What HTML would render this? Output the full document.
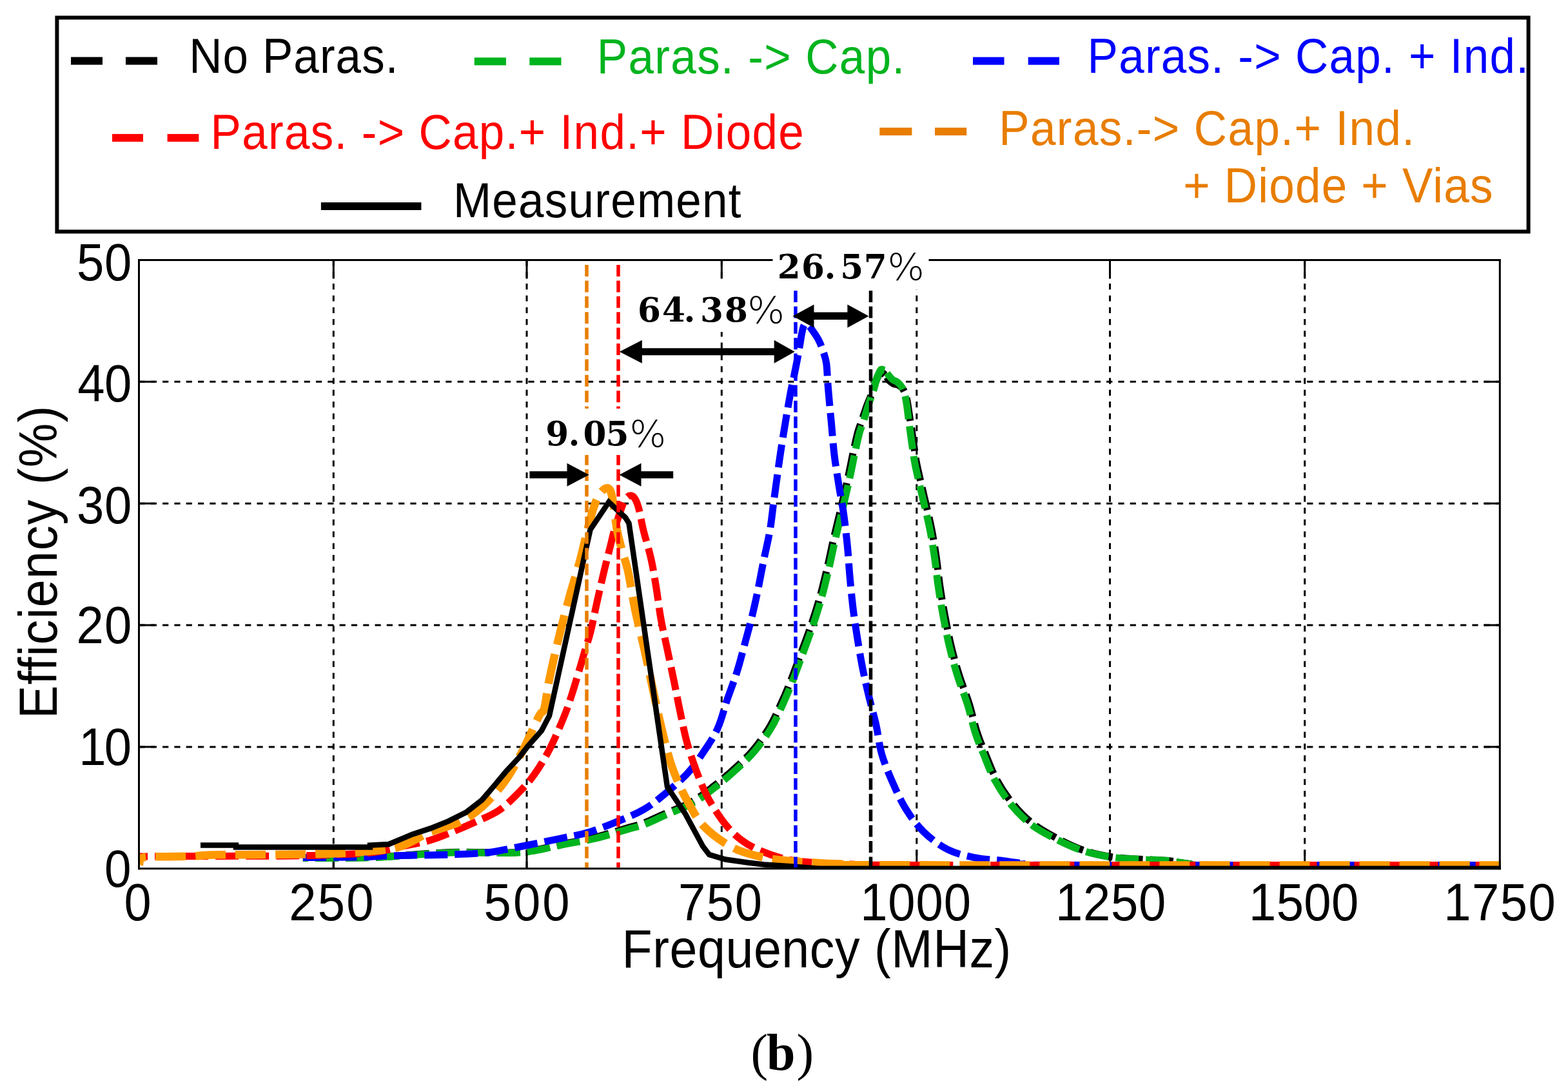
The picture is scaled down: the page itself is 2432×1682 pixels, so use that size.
<!DOCTYPE html>
<html><head><meta charset="utf-8"><title>Efficiency vs Frequency</title><style>html,body{margin:0;padding:0;background:#fff;}svg{display:block;}</style></head><body>
<svg width="2432" height="1682" viewBox="0 0 2432 1682">
<rect x="0" y="0" width="2432" height="1682" fill="#fff"/>
<rect x="88.4" y="27.4" width="2282.2" height="332" fill="#fff" stroke="#000" stroke-width="6"/>
<rect x="110" y="88.5" width="49.0" height="12" fill="#000"/><rect x="195" y="88.5" width="49.0" height="12" fill="#000"/>
<rect x="735.7" y="89.3" width="49.2" height="12" fill="#00b41e"/><rect x="821.3" y="89.3" width="49.2" height="12" fill="#00b41e"/>
<rect x="1509" y="88.6" width="48.5" height="12" fill="#0000ff"/><rect x="1594.7" y="88.6" width="48.3" height="12" fill="#0000ff"/>
<rect x="174" y="207.9" width="48.0" height="12" fill="#ff0000"/><rect x="259.6" y="207.9" width="48.8" height="12" fill="#ff0000"/>
<rect x="1364.3" y="198.1" width="50.1" height="12" fill="#e87d00"/><rect x="1450" y="198.1" width="49.2" height="12" fill="#e87d00"/>
<rect x="497.9" y="314" width="155.5" height="12" fill="#000"/>
<text transform="scale(0.94,1)" x="311.9" y="112.8" font-family='"Liberation Sans", Arial, sans-serif' font-weight="normal" font-size="75.5" fill="#000" textLength="345.0" lengthAdjust="spacing" >No Paras.</text>
<text transform="scale(0.94,1)" x="984.8" y="113.8" font-family='"Liberation Sans", Arial, sans-serif' font-weight="normal" font-size="75.5" fill="#00b41e" textLength="508.0" lengthAdjust="spacing" >Paras. -&gt; Cap.</text>
<text transform="scale(0.94,1)" x="1794.2" y="112.6" font-family='"Liberation Sans", Arial, sans-serif' font-weight="normal" font-size="75.5" fill="#0000ff" textLength="728.2" lengthAdjust="spacing" >Paras. -&gt; Cap. + Ind.</text>
<text transform="scale(0.94,1)" x="347.4" y="230.8" font-family='"Liberation Sans", Arial, sans-serif' font-weight="normal" font-size="75.5" fill="#ff0000" textLength="979.0" lengthAdjust="spacing" >Paras. -&gt; Cap.+ Ind.+ Diode</text>
<text transform="scale(0.94,1)" x="1648.1" y="225.3" font-family='"Liberation Sans", Arial, sans-serif' font-weight="normal" font-size="75.5" fill="#e87d00" textLength="686.0" lengthAdjust="spacing" >Paras.-&gt; Cap.+ Ind.</text>
<text transform="scale(0.94,1)" x="1952.3" y="314.4" font-family='"Liberation Sans", Arial, sans-serif' font-weight="normal" font-size="75.5" fill="#e87d00" textLength="511.0" lengthAdjust="spacing" >+ Diode + Vias</text>
<text transform="scale(0.94,1)" x="747.8" y="337.2" font-family='"Liberation Sans", Arial, sans-serif' font-weight="normal" font-size="75.5" fill="#000" textLength="475.0" lengthAdjust="spacing" >Measurement</text>
<g stroke="#000" stroke-width="3" stroke-dasharray="9.2 9.1" fill="none"><line x1="517.3" y1="403.5" x2="517.3" y2="1347.7"/><line x1="817.0" y1="403.5" x2="817.0" y2="1347.7"/><line x1="1119.3" y1="403.5" x2="1119.3" y2="1347.7"/><line x1="1421.8" y1="403.5" x2="1421.8" y2="1347.7"/><line x1="1721.5" y1="403.5" x2="1721.5" y2="1347.7"/><line x1="2023.7" y1="403.5" x2="2023.7" y2="1347.7"/><line x1="215.5" y1="1158.9" x2="2326.3" y2="1158.9"/><line x1="215.5" y1="970.0" x2="2326.3" y2="970.0"/><line x1="215.5" y1="781.2" x2="2326.3" y2="781.2"/><line x1="215.5" y1="592.3" x2="2326.3" y2="592.3"/></g>
<g stroke="#000" stroke-width="3" fill="none"><line x1="517.3" y1="403.5" x2="517.3" y2="432.5"/><line x1="517.3" y1="1347.7" x2="517.3" y2="1318.7"/><line x1="817.0" y1="403.5" x2="817.0" y2="432.5"/><line x1="817.0" y1="1347.7" x2="817.0" y2="1318.7"/><line x1="1119.3" y1="403.5" x2="1119.3" y2="432.5"/><line x1="1119.3" y1="1347.7" x2="1119.3" y2="1318.7"/><line x1="1421.8" y1="403.5" x2="1421.8" y2="432.5"/><line x1="1421.8" y1="1347.7" x2="1421.8" y2="1318.7"/><line x1="1721.5" y1="403.5" x2="1721.5" y2="432.5"/><line x1="1721.5" y1="1347.7" x2="1721.5" y2="1318.7"/><line x1="2023.7" y1="403.5" x2="2023.7" y2="432.5"/><line x1="2023.7" y1="1347.7" x2="2023.7" y2="1318.7"/><line x1="215.5" y1="1158.9" x2="240.5" y2="1158.9"/><line x1="2326.3" y1="1158.9" x2="2301.3" y2="1158.9"/><line x1="215.5" y1="970.0" x2="240.5" y2="970.0"/><line x1="2326.3" y1="970.0" x2="2301.3" y2="970.0"/><line x1="215.5" y1="781.2" x2="240.5" y2="781.2"/><line x1="2326.3" y1="781.2" x2="2301.3" y2="781.2"/><line x1="215.5" y1="592.3" x2="240.5" y2="592.3"/><line x1="2326.3" y1="592.3" x2="2301.3" y2="592.3"/></g>
<defs><clipPath id="pc"><rect x="214" y="402" width="2114" height="947.2"/></clipPath></defs><g clip-path="url(#pc)">
<path d="M469.68,1331.31 C484.67,1331.22 538.00,1331.13 559.65,1330.79 C581.30,1330.45 576.31,1330.62 599.58,1329.24 C622.84,1327.87 667.63,1323.58 699.25,1322.55 C730.87,1321.52 767.80,1323.58 789.27,1323.07 C810.75,1322.55 814.39,1321.67 828.10,1319.46 C841.81,1317.25 856.35,1312.95 871.53,1309.78 C886.71,1306.60 902.69,1304.46 919.17,1300.40 C935.66,1296.35 957.47,1289.33 970.50,1285.50 C983.67,1281.75 988.00,1281.03 997.50,1277.50 C1007.00,1273.97 1014.95,1269.85 1027.50,1264.30 C1040.05,1258.75 1059.40,1251.72 1072.80,1244.20 C1086.20,1236.68 1096.62,1227.98 1107.90,1219.20 C1119.18,1210.42 1130.48,1200.70 1140.50,1191.50 C1150.52,1182.30 1159.23,1174.42 1168.00,1164.00 C1176.77,1153.58 1186.02,1140.68 1193.10,1129.00 C1200.18,1117.32 1205.10,1105.60 1210.50,1093.90 C1215.90,1082.20 1220.05,1072.58 1225.50,1058.80 C1230.95,1045.02 1237.62,1026.45 1243.20,1011.20 C1248.78,995.95 1254.15,981.82 1259.00,967.30 C1263.85,952.78 1268.22,938.82 1272.30,924.10 C1276.38,909.38 1280.05,893.73 1283.50,879.00 C1286.95,864.27 1289.53,850.75 1293.00,835.70 C1296.47,820.65 1300.55,804.67 1304.30,788.70 C1308.05,772.73 1312.22,754.93 1315.50,739.90 C1318.78,724.87 1321.50,710.07 1324.00,698.50 C1326.50,686.93 1328.37,678.27 1330.50,670.50 C1332.63,662.73 1334.47,659.23 1336.80,651.90 C1339.24,644.95 1342.26,635.29 1344.96,628.16 C1347.66,621.02 1350.64,615.09 1352.95,608.93 C1355.26,602.78 1356.68,596.35 1358.82,591.24 C1360.95,586.13 1363.43,579.85 1365.74,578.28 C1368.05,576.71 1370.63,579.95 1372.67,581.82" fill="none" stroke="#000" stroke-width="11" stroke-dasharray="36 11" stroke-dashoffset="27.82"/>
<path d="M1373.33,581.82 C1375.12,583.69 1376.13,586.69 1378.00,589.50 C1380.13,591.36 1382.97,594.06 1385.46,595.34 C1387.95,596.62 1390.43,595.82 1392.92,597.18 C1395.41,598.55 1398.25,600.33 1400.38,603.53 C1402.51,606.72 1404.29,611.32 1405.71,616.34 C1407.13,621.36 1407.61,625.39 1408.91,633.63 C1410.20,641.88 1411.89,655.00 1413.80,664.70 C1415.30,675.87 1417.05,688.80 1418.50,698.50 C1419.95,708.20 1420.03,711.00 1422.50,722.90 C1424.97,734.80 1429.63,753.92 1433.30,769.90 C1436.97,785.88 1441.37,803.13 1444.50,818.80 C1447.63,834.47 1449.88,848.87 1452.10,863.90 C1454.32,878.93 1455.60,893.97 1457.80,909.00 C1460.00,924.03 1462.35,938.35 1465.30,954.10 C1468.25,969.85 1471.72,987.77 1475.50,1003.50 C1479.28,1019.23 1483.42,1033.85 1488.00,1048.50 C1492.58,1063.15 1498.42,1076.73 1503.00,1091.40 C1507.58,1106.07 1511.32,1123.57 1515.50,1136.50 C1519.68,1149.43 1523.10,1156.88 1528.10,1169.00 C1533.10,1181.12 1538.43,1196.25 1545.50,1209.20 C1552.57,1222.15 1561.33,1235.43 1570.50,1246.70 C1579.67,1257.97 1589.20,1268.02 1600.50,1276.80 C1611.80,1285.58 1624.42,1292.63 1637.65,1299.79 C1650.89,1306.95 1665.99,1314.46 1680.40,1319.46 C1694.81,1324.46 1709.46,1327.46 1724.10,1329.76 C1738.74,1332.06 1753.56,1332.32 1768.23,1333.26 C1782.90,1334.21 1799.35,1334.21 1812.12,1335.42 C1824.90,1336.64 1832.00,1339.35 1845.00,1340.50 C1858.00,1341.65 1809.17,1342.07 1890.00,1342.40 C1970.83,1342.73 2256.67,1342.48 2330.00,1342.50" fill="none" stroke="#000" stroke-width="11" stroke-dasharray="36 11" stroke-dashoffset="1405.70"/>
<path d="M470.0,1331.5 C485.0,1331.4 538.3,1331.3 560.0,1331.0 C581.7,1330.7 576.7,1330.8 600.0,1329.5 C623.3,1328.2 668.3,1324.0 700.0,1323.0 C731.7,1322.0 768.5,1324.0 790.0,1323.5 C811.5,1323.0 815.2,1322.2 829.0,1320.0 C842.8,1317.8 857.6,1313.7 872.9,1310.6 C888.2,1307.5 904.3,1305.4 921.0,1301.5 C937.7,1297.6 959.8,1290.8 973.0,1287.0 C986.2,1283.2 990.5,1282.5 1000.0,1279.0 C1009.5,1275.5 1017.5,1271.3 1030.0,1265.8 C1042.5,1260.2 1061.9,1253.2 1075.3,1245.7 C1088.7,1238.2 1099.1,1229.5 1110.4,1220.7 C1121.7,1211.9 1133.0,1202.2 1143.0,1193.0 C1153.0,1183.8 1161.7,1175.9 1170.5,1165.5 C1179.3,1155.1 1188.5,1142.2 1195.6,1130.5 C1202.7,1118.8 1207.6,1107.1 1213.0,1095.4 C1218.4,1083.7 1222.5,1074.1 1228.0,1060.3 C1233.5,1046.5 1240.1,1028.0 1245.7,1012.7 C1251.3,997.5 1256.7,983.3 1261.5,968.8 C1266.3,954.3 1270.7,940.3 1274.8,925.6 C1278.9,910.9 1282.5,895.2 1286.0,880.5 C1289.5,865.8 1292.0,852.2 1295.5,837.2 C1299.0,822.2 1303.0,806.2 1306.8,790.2 C1310.5,774.2 1314.7,756.4 1318.0,741.4 C1321.3,726.4 1324.0,711.6 1326.5,700.0 C1329.0,688.4 1330.9,679.8 1333.0,672.0 C1335.1,664.2 1337.0,660.7 1339.3,653.4 C1341.6,646.1 1344.5,635.7 1347.0,628.0 C1349.5,620.3 1352.3,613.7 1354.5,607.0 C1356.7,600.3 1358.0,593.6 1360.0,588.0 C1362.0,582.4 1364.3,575.6 1366.5,573.5 C1368.7,571.4 1371.1,574.1 1373.0,575.5 C1374.9,576.9 1376.0,579.7 1378.0,582.0 C1380.0,584.3 1382.7,587.7 1385.0,589.5 C1387.3,591.3 1389.7,591.1 1392.0,593.0 C1394.3,594.9 1397.0,597.3 1399.0,601.0 C1401.0,604.7 1402.7,609.7 1404.0,615.0 C1405.3,620.3 1405.8,624.5 1407.0,633.0 C1408.2,641.5 1409.8,655.0 1411.3,666.2 C1412.8,677.4 1414.5,690.3 1416.0,700.0 C1417.5,709.7 1417.5,712.5 1420.0,724.4 C1422.5,736.3 1427.1,755.4 1430.8,771.4 C1434.5,787.4 1438.9,804.6 1442.0,820.3 C1445.1,836.0 1447.4,850.4 1449.6,865.4 C1451.8,880.4 1453.1,895.5 1455.3,910.5 C1457.5,925.5 1459.8,939.9 1462.8,955.6 C1465.8,971.4 1469.2,989.3 1473.0,1005.0 C1476.8,1020.7 1480.9,1035.3 1485.5,1050.0 C1490.1,1064.7 1495.9,1078.2 1500.5,1092.9 C1505.1,1107.6 1508.8,1125.1 1513.0,1138.0 C1517.2,1150.9 1520.6,1158.4 1525.6,1170.5 C1530.6,1182.6 1535.9,1197.8 1543.0,1210.7 C1550.1,1223.7 1558.8,1236.9 1568.0,1248.2 C1577.2,1259.5 1586.7,1269.5 1598.0,1278.3 C1609.3,1287.1 1622.2,1294.0 1635.8,1300.9 C1649.4,1307.9 1664.8,1315.2 1679.5,1320.0 C1694.2,1324.8 1709.0,1327.8 1723.7,1330.0 C1738.5,1332.2 1753.3,1332.5 1768.0,1333.4 C1782.7,1334.3 1799.2,1334.3 1812.0,1335.5 C1824.8,1336.7 1832.0,1339.3 1845.0,1340.5 C1858.0,1341.7 1809.2,1342.1 1890.0,1342.4 C1970.8,1342.7 2256.7,1342.5 2330.0,1342.5" fill="none" stroke="#00b41e" stroke-width="11" stroke-dasharray="36 11" stroke-dashoffset="27.82"/>
<path d="M1356.0,596.0 C1356.7,594.3 1358.2,589.8 1360.0,586.0 C1361.8,582.2 1364.5,575.3 1366.5,573.5 C1368.5,571.7 1371.1,574.8 1372.0,575.0" fill="none" stroke="#00b41e" stroke-width="11"/>
<path d="M470.0,1330.5 C485.0,1330.4 538.3,1330.4 560.0,1330.0 C581.7,1329.6 576.7,1328.7 600.0,1328.0 C623.3,1327.3 674.2,1326.8 700.0,1326.0 C725.8,1325.2 741.2,1324.3 755.0,1323.0 C768.8,1321.7 770.9,1320.6 783.0,1318.4 C795.1,1316.2 812.9,1312.5 827.4,1309.6 C841.9,1306.7 855.8,1303.9 870.3,1300.8 C884.8,1297.7 898.1,1296.1 914.5,1291.0 C930.9,1285.9 954.4,1276.1 968.4,1270.3 C982.4,1264.5 989.1,1261.5 998.5,1256.0 C1007.9,1250.5 1013.9,1246.2 1025.0,1237.0 C1036.1,1227.8 1054.4,1212.5 1065.3,1201.0 C1076.2,1189.5 1082.5,1179.8 1090.4,1168.0 C1098.4,1156.2 1106.7,1144.3 1113.0,1130.5 C1119.3,1116.7 1123.0,1099.9 1128.0,1085.3 C1133.0,1070.7 1138.4,1057.3 1143.0,1042.7 C1147.6,1028.1 1151.8,1011.4 1155.5,997.6 C1159.2,983.8 1162.2,973.3 1165.5,960.0 C1168.8,946.7 1171.8,933.2 1175.0,918.0 C1178.2,902.8 1181.4,884.7 1184.6,869.0 C1187.8,853.3 1191.4,839.0 1194.0,824.0 C1196.6,809.0 1198.0,793.8 1200.0,779.0 C1202.0,764.2 1204.2,748.2 1206.0,735.0 C1207.8,721.8 1208.8,714.6 1211.0,700.0 C1213.2,685.4 1217.0,662.4 1219.5,647.4 C1222.0,632.4 1224.1,620.2 1226.0,610.0 C1227.9,599.8 1229.2,595.0 1231.0,586.0 C1232.8,577.0 1235.4,564.3 1237.0,556.0 C1238.6,547.7 1239.4,542.3 1240.5,536.0 C1241.6,529.7 1242.5,523.0 1243.5,518.0 C1244.5,513.0 1245.4,508.6 1246.5,506.0 C1247.6,503.4 1248.6,502.5 1250.0,502.5 C1251.4,502.5 1253.2,504.1 1255.0,506.0 C1256.8,507.9 1258.6,510.5 1261.0,514.0 C1263.4,517.5 1266.9,522.2 1269.4,527.0 C1271.9,531.8 1274.0,536.9 1276.0,543.0 C1278.0,549.1 1280.4,554.8 1281.7,563.6 C1283.0,572.4 1283.2,585.8 1284.0,596.0 C1284.8,606.2 1285.6,614.9 1286.5,625.0 C1287.4,635.1 1288.2,643.4 1289.5,656.8 C1290.8,670.2 1292.1,689.6 1294.0,705.6 C1295.9,721.6 1298.6,737.2 1301.0,752.6 C1303.4,768.0 1306.4,782.0 1308.6,797.7 C1310.8,813.4 1312.7,830.6 1314.3,846.6 C1315.9,862.6 1316.6,877.9 1318.0,893.6 C1319.4,909.3 1320.9,925.4 1322.7,940.6 C1324.5,955.8 1326.5,969.2 1329.0,985.0 C1331.5,1000.8 1334.5,1019.3 1337.6,1035.2 C1340.7,1051.1 1344.0,1065.3 1347.6,1080.3 C1351.2,1095.3 1355.7,1110.4 1359.0,1125.4 C1362.3,1140.4 1363.3,1155.5 1367.7,1170.5 C1372.1,1185.5 1378.9,1201.5 1385.2,1215.7 C1391.5,1229.9 1397.4,1243.3 1405.3,1255.8 C1413.2,1268.3 1421.9,1280.5 1432.8,1290.9 C1443.7,1301.3 1457.0,1311.7 1470.4,1318.4 C1483.8,1325.1 1499.6,1328.2 1513.0,1331.0 C1526.4,1333.8 1537.8,1333.5 1550.6,1335.0 C1563.4,1336.5 1575.1,1338.8 1590.0,1340.0 C1604.9,1341.2 1516.7,1341.9 1640.0,1342.3 C1763.3,1342.7 2215.0,1342.5 2330.0,1342.5" fill="none" stroke="#0000ff" stroke-width="11" stroke-dasharray="36 11" stroke-dashoffset="46.84"/>
<path d="M216.0,1329.0 C230.0,1328.9 261.0,1328.7 300.0,1328.5 C339.0,1328.3 413.3,1328.4 450.0,1328.0 C486.7,1327.6 498.3,1326.9 520.0,1326.0 C541.7,1325.1 562.5,1324.7 580.0,1322.5 C597.5,1320.3 610.3,1316.2 625.0,1313.0 C639.7,1309.8 654.7,1307.4 668.0,1303.5 C681.3,1299.6 693.4,1294.1 704.8,1289.5 C716.2,1284.9 725.0,1281.1 736.5,1275.8 C748.0,1270.5 762.2,1265.3 773.7,1257.5 C785.2,1249.7 796.2,1238.4 805.4,1229.0 C814.6,1219.6 821.2,1212.3 829.0,1201.3 C836.8,1190.2 844.7,1177.4 852.3,1162.7 C859.9,1148.0 868.8,1126.7 874.4,1113.0 C880.0,1099.3 881.7,1093.7 886.0,1080.6 C890.3,1067.5 896.3,1046.8 900.0,1034.5 C903.7,1022.2 905.3,1016.0 908.0,1007.0 C910.7,998.0 913.0,992.6 916.0,980.4 C919.0,968.2 922.6,949.4 926.0,934.0 C929.4,918.6 933.1,902.3 936.5,888.0 C939.9,873.7 943.8,859.0 946.5,848.0 C949.2,837.0 950.8,830.0 953.0,822.0 C955.2,814.0 957.8,806.5 960.0,800.0 C962.2,793.5 964.0,787.7 966.0,783.0 C968.0,778.3 969.9,774.3 972.0,772.0 C974.1,769.7 976.3,768.7 978.5,769.0 C980.7,769.3 982.9,770.5 985.0,774.0 C987.1,777.5 988.8,781.8 991.0,790.0 C993.2,798.2 994.8,810.0 998.0,823.0 C1001.2,836.0 1006.7,853.0 1010.0,868.0 C1013.3,883.0 1015.5,897.7 1018.0,913.0 C1020.5,928.3 1022.2,944.2 1025.0,960.0 C1027.8,975.8 1031.7,991.8 1035.0,1007.6 C1038.3,1023.4 1041.8,1039.6 1045.0,1055.0 C1048.2,1070.4 1050.4,1083.2 1054.0,1100.0 C1057.6,1116.8 1061.1,1136.7 1066.5,1155.5 C1071.9,1174.3 1080.1,1197.1 1086.6,1213.0 C1093.1,1228.9 1097.7,1238.2 1105.4,1250.7 C1113.1,1263.2 1123.0,1277.8 1133.0,1288.3 C1143.0,1298.8 1152.5,1306.3 1165.5,1313.4 C1178.5,1320.5 1196.5,1327.0 1210.7,1331.0 C1224.9,1335.0 1232.6,1335.8 1250.8,1337.5 C1269.0,1339.2 1291.8,1340.2 1320.0,1341.0 C1348.2,1341.8 1251.7,1342.2 1420.0,1342.4 C1588.3,1342.7 2178.3,1342.5 2330.0,1342.5" fill="none" stroke="#ff0000" stroke-width="11" stroke-dasharray="36 11" stroke-dashoffset="22.83"/>
<path d="M216.0,1341.0 C217.0,1339.2 214.7,1332.5 222.0,1330.5 C229.3,1328.5 247.0,1329.6 260.0,1329.3 C273.0,1329.0 288.3,1329.0 300.0,1328.5 C311.7,1328.0 310.0,1326.9 330.0,1326.5 C350.0,1326.1 391.7,1326.2 420.0,1326.0 C448.3,1325.8 476.7,1325.7 500.0,1325.0 C523.3,1324.3 540.2,1323.8 560.0,1322.0 C579.8,1320.2 601.1,1319.2 619.0,1314.0 C636.9,1308.8 652.1,1297.3 667.6,1291.0 C683.1,1284.7 698.4,1282.5 711.7,1276.0 C725.0,1269.5 735.8,1262.4 747.5,1252.0 C759.2,1241.6 771.6,1227.9 782.0,1213.7 C792.4,1199.5 800.6,1184.1 809.6,1167.0 C818.6,1149.9 830.3,1122.2 836.0,1111.0 C841.7,1099.8 841.3,1109.4 844.0,1100.0 C846.7,1090.6 848.3,1072.4 852.0,1054.5 C855.7,1036.6 861.0,1013.1 866.0,992.4 C871.0,971.7 876.3,951.0 882.0,930.3 C887.7,909.6 895.2,885.9 900.0,868.0 C904.8,850.1 907.5,836.5 911.0,823.0 C914.5,809.5 917.8,796.3 921.0,787.0 C924.2,777.7 926.8,771.9 930.0,767.0 C933.2,762.1 937.2,758.3 940.0,757.5 C942.8,756.7 945.0,757.4 947.0,762.0 C949.0,766.6 950.3,775.0 952.0,785.0 C953.7,795.0 954.8,810.3 957.0,822.0 C959.2,833.7 962.2,844.3 965.0,855.0 C967.8,865.7 970.6,870.5 974.0,886.0 C977.4,901.5 981.2,927.3 985.5,948.0 C989.8,968.7 995.5,989.7 1000.0,1010.0 C1004.5,1030.3 1008.5,1050.8 1012.7,1070.0 C1016.9,1089.2 1020.5,1106.6 1025.0,1125.4 C1029.5,1144.2 1035.0,1167.1 1040.0,1183.0 C1045.0,1198.9 1050.4,1210.2 1055.0,1220.7 C1059.6,1231.2 1061.9,1235.7 1067.8,1245.7 C1073.7,1255.7 1079.5,1269.5 1090.4,1280.8 C1101.3,1292.1 1118.8,1305.5 1133.0,1313.4 C1147.2,1321.4 1160.1,1324.7 1175.6,1328.5 C1191.0,1332.3 1204.8,1334.0 1225.7,1336.0 C1246.6,1338.0 1272.0,1339.5 1301.0,1340.5 C1330.0,1341.5 1228.5,1342.0 1400.0,1342.3 C1571.5,1342.6 2175.0,1342.5 2330.0,1342.5" fill="none" stroke="#ff9900" stroke-width="12.5" stroke-dasharray="47 15" stroke-dashoffset="29.62"/>
<path d="M311.0,1311.5 L366.0,1311.5 L366.0,1314.4 L574.0,1314.4 L574.0,1311.5 L603.0,1310.0 L640.0,1294.4 L667.6,1285.4 L695.1,1274.4 L722.7,1260.6 L747.5,1241.3 L764.1,1222.0 L784.7,1197.2 L805.4,1175.1 L819.2,1157.2 L839.9,1133.8 L852.0,1110.6 L915.5,822.0 L944.3,779.0 L961.0,795.0 L970.0,803.0 L975.5,812.0 L1035.0,1221.0 L1063.0,1263.0 L1090.0,1313.0 L1100.0,1326.0 L1125.0,1333.5 L1160.0,1338.5 L1185.0,1341.5 L1230.0,1344.5 L1270.0,1347.7 L2330.0,1347.7" fill="none" stroke="#000" stroke-width="8.5" stroke-linejoin="miter" stroke-miterlimit="3"/>
</g>
<line x1="910" y1="411" x2="910" y2="1346" stroke="#e87d00" stroke-width="5.5" stroke-dasharray="18 6.4"/>
<line x1="959" y1="411" x2="959" y2="1346" stroke="#ff0000" stroke-width="5.5" stroke-dasharray="18 6.4"/>
<line x1="1234" y1="451" x2="1234" y2="1346" stroke="#0000ff" stroke-width="5.5" stroke-dasharray="18 6.4"/>
<line x1="1350.5" y1="451" x2="1350.5" y2="1346" stroke="#000" stroke-width="5.5" stroke-dasharray="18 6.4"/>
<line x1="821.4" y1="736.7" x2="885" y2="736.7" stroke="#000" stroke-width="11"/>
<path d="M913.5,736.7 L879.5,718.7 L879.5,754.7 Z" fill="#000"/>
<line x1="990" y1="736.7" x2="1044.2" y2="736.7" stroke="#000" stroke-width="11"/>
<path d="M960.5,736.7 L994.5,718.7 L994.5,754.7 Z" fill="#000"/>
<line x1="990" y1="545.7" x2="1205" y2="545.7" stroke="#000" stroke-width="11"/>
<path d="M960.8,545.7 L995.8,527.7 L995.8,563.7 Z" fill="#000"/>
<path d="M1232.7,545.7 L1200.7,527.7 L1200.7,563.7 Z" fill="#000"/>
<line x1="1258" y1="490.3" x2="1320" y2="490.3" stroke="#000" stroke-width="11.5"/>
<path d="M1229.5,490.5 L1262.5,472.5 L1262.5,508.5 Z" fill="#000"/>
<path d="M1347.4,490.5 L1314.4,472.5 L1314.4,508.5 Z" fill="#000"/>
<rect x="1197" y="385" width="245" height="64" fill="#fff"/>
<rect x="985" y="440" width="236" height="75" fill="#fff"/>
<rect x="840" y="634" width="196" height="72" fill="#fff"/>
<text y="691.3" x="846.3 881.5 904.6 939.6" font-family='"DejaVu Serif", serif' font-weight="bold" font-size="51.6" fill="#000">9.05</text><text transform="translate(976.3,693.6) scale(1.066,1)" x="0" y="0" font-family='"DejaVu Sans", sans-serif' font-weight="200" font-size="56.5" fill="#000">%</text>
<text y="499.2" x="988.9 1026.9 1060.6 1086.1 1123.9" font-family='"DejaVu Serif", serif' font-weight="bold" font-size="51.6" fill="#000">64.38</text><text transform="translate(1158.9,501.5) scale(1.086,1)" x="0" y="0" font-family='"DejaVu Sans", sans-serif' font-weight="200" font-size="56.5" fill="#000">%</text>
<text y="432.4" x="1205.7 1243.0 1278.5 1303.2 1339.7" font-family='"DejaVu Serif", serif' font-weight="bold" font-size="51.6" fill="#000">26.57</text><text transform="translate(1376.3,434.7) scale(1.077,1)" x="0" y="0" font-family='"DejaVu Sans", sans-serif' font-weight="200" font-size="56.5" fill="#000">%</text>
<g stroke="#000" stroke-width="3" stroke-linecap="square" fill="none"><line x1="215.5" y1="1347.7" x2="2326.3" y2="1347.7"/><line x1="215.5" y1="403.5" x2="215.5" y2="1347.7"/><line x1="2326.3" y1="403.5" x2="2326.3" y2="1347.7"/><line x1="215.5" y1="403.5" x2="1197" y2="403.5"/><line x1="1442" y1="403.5" x2="2326.3" y2="403.5"/></g>
<text transform="scale(0.93,1)" x="127.9" y="434.9" font-family='"Liberation Sans", Arial, sans-serif' font-weight="normal" font-size="81.8" fill="#000" textLength="91.7" lengthAdjust="spacing" >50</text>
<text transform="scale(0.93,1)" x="129.2" y="623.4" font-family='"Liberation Sans", Arial, sans-serif' font-weight="normal" font-size="81.8" fill="#000" textLength="90.6" lengthAdjust="spacing" >40</text>
<text transform="scale(0.93,1)" x="128.0" y="812.5" font-family='"Liberation Sans", Arial, sans-serif' font-weight="normal" font-size="81.8" fill="#000" textLength="91.8" lengthAdjust="spacing" >30</text>
<text transform="scale(0.93,1)" x="127.5" y="998.5" font-family='"Liberation Sans", Arial, sans-serif' font-weight="normal" font-size="81.8" fill="#000" textLength="92.3" lengthAdjust="spacing" >20</text>
<text transform="scale(0.93,1)" x="131.5" y="1187.3" font-family='"Liberation Sans", Arial, sans-serif' font-weight="normal" font-size="81.8" fill="#000" textLength="88.0" lengthAdjust="spacing" >10</text>
<text transform="scale(0.9130,1)" x="177.5" y="1376.4" font-family='"Liberation Sans", Arial, sans-serif' font-weight="normal" font-size="81.8" fill="#000">0</text>
<text transform="scale(0.9258,1)" x="207.8" y="1427.9" font-family='"Liberation Sans", Arial, sans-serif' font-weight="normal" font-size="81.8" fill="#000">0</text>
<text transform="scale(0.93,1)" x="481.9" y="1427.9" font-family='"Liberation Sans", Arial, sans-serif' font-weight="normal" font-size="81.8" fill="#000" textLength="141.3" lengthAdjust="spacing" >250</text>
<text transform="scale(0.93,1)" x="807.0" y="1427.9" font-family='"Liberation Sans", Arial, sans-serif' font-weight="normal" font-size="81.8" fill="#000" textLength="143.2" lengthAdjust="spacing" >500</text>
<text transform="scale(0.93,1)" x="1131.1" y="1427.9" font-family='"Liberation Sans", Arial, sans-serif' font-weight="normal" font-size="81.8" fill="#000" textLength="139.8" lengthAdjust="spacing" >750</text>
<text transform="scale(0.93,1)" x="1434.6" y="1427.9" font-family='"Liberation Sans", Arial, sans-serif' font-weight="normal" font-size="81.8" fill="#000" textLength="184.7" lengthAdjust="spacing" >1000</text>
<text transform="scale(0.93,1)" x="1760.1" y="1427.9" font-family='"Liberation Sans", Arial, sans-serif' font-weight="normal" font-size="81.8" fill="#000" textLength="184.2" lengthAdjust="spacing" >1250</text>
<text transform="scale(0.93,1)" x="2082.8" y="1427.9" font-family='"Liberation Sans", Arial, sans-serif' font-weight="normal" font-size="81.8" fill="#000" textLength="183.0" lengthAdjust="spacing" >1500</text>
<text transform="scale(0.93,1)" x="2407.7" y="1427.9" font-family='"Liberation Sans", Arial, sans-serif' font-weight="normal" font-size="81.8" fill="#000" textLength="186.8" lengthAdjust="spacing" >1750</text>
<text transform="scale(0.93,1)" x="1037.2" y="1501.5" font-family='"Liberation Sans", Arial, sans-serif' font-weight="normal" font-size="83.0" fill="#000" textLength="649.1" lengthAdjust="spacing" >Frequency (MHz)</text>
<g transform="translate(88,1108.6) rotate(-90)"><text transform="scale(0.93,1)" x="-6.8" y="0.0" font-family='"Liberation Sans", Arial, sans-serif' font-weight="normal" font-size="83.0" fill="#000" textLength="521.7" lengthAdjust="spacing" >Efficiency (%)</text></g>
<text x="1164.6" y="1660.3" font-family='"Liberation Serif", "Times New Roman", serif' font-weight="normal" font-size="80.0" fill="#000" textLength="23.8" lengthAdjust="spacing" >(</text>
<text x="1189.0" y="1660.3" font-family='"Liberation Serif", "Times New Roman", serif' font-weight="bold" font-size="80.0" fill="#000" textLength="45.3" lengthAdjust="spacing" >b</text>
<text x="1235.4" y="1660.3" font-family='"Liberation Serif", "Times New Roman", serif' font-weight="normal" font-size="80.0" fill="#000" textLength="24.1" lengthAdjust="spacing" >)</text>
</svg>
</body></html>
